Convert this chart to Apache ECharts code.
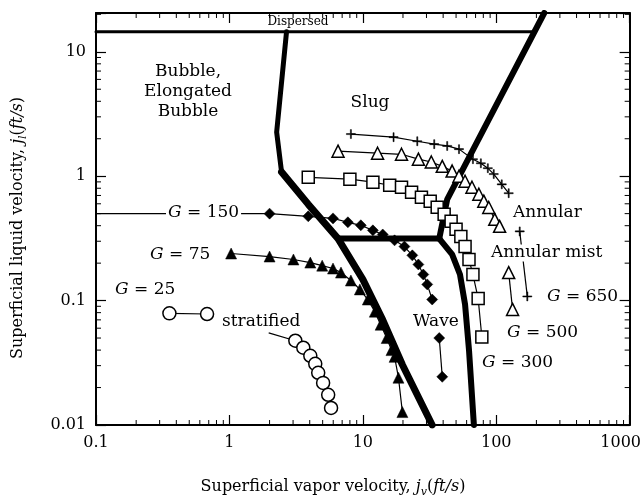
<!DOCTYPE html>
<html>
<head>
<meta charset="utf-8">
<script src="https://cdn.jsdelivr.net/npm/echarts@6.0.0/dist/echarts.min.js"></script>
<style>
html, body { margin: 0; padding: 0; background: #fff; }
#chart { width: 644px; height: 495px; }
</style>
</head>
<body>
<div id="chart"></div>
<script>
// axis ranges and ticks
const xRange = [0.1, 1000];
const yRange = [0.01, 20.5];
const xMinorTicks = [0.2, 0.3, 0.4, 0.5, 0.6, 0.7, 0.8, 0.9,
    2, 3, 4, 5, 6, 7, 8, 9, 20, 30, 40, 50, 60, 70, 80, 90,
    200, 300, 400, 500, 600, 700, 800, 900];
const yMinorTicks = [0.02, 0.03, 0.04, 0.05, 0.06, 0.07, 0.08, 0.09,
    0.2, 0.3, 0.4, 0.5, 0.6, 0.7, 0.8, 0.9, 2, 3, 4, 5, 6, 7, 8, 9, 20];

// flow regime boundaries [jv, jl]
const dispersedLine = [[0.1, 14.5], [191, 14.5]];
const bubbleUpper = [[2.68, 14.5], [2.26, 2.26], [2.46, 1.08]];
const bubbleLower = [[2.46, 1.08], [3.9, 0.594], [6.52, 0.315],
    [10, 0.148], [14.1, 0.07], [19.8, 0.0305], [33.1, 0.01]];
const waveTopLine = [[6.52, 0.315], [37.4, 0.315]];
const annularLine = [[37.4, 0.315], [42.9, 0.65], [229, 20.5]];
const waveRightLine = [[37.4, 0.315], [46.7, 0.235], [53.5, 0.162], [58.4, 0.093], [62.5, 0.04], [68, 0.01]];

// data, G = mass flux
const g25a = [[0.355, 0.079], [0.68, 0.078]];
const g25b = [[1.97, 0.055], [3.12, 0.0476], [3.58, 0.0418], [4.04, 0.036], [4.4, 0.031],
    [4.63, 0.0263], [5.04, 0.0218], [5.5, 0.0175], [5.78, 0.0137]];
const g75 = [[1.03, 0.239], [2.0, 0.226], [3.02, 0.214], [4.04, 0.202], [4.96, 0.191], [5.98, 0.181],
    [6.86, 0.168], [8.14, 0.145], [9.5, 0.123], [10.9, 0.102], [12.3, 0.0815], [13.6, 0.064],
    [15.1, 0.05], [16.4, 0.04], [17.3, 0.0353], [18.5, 0.024], [19.8, 0.0127]];
const g150a = [[0.1, 0.5], [2.0, 0.5], [3.9, 0.476], [5.98, 0.458], [7.73, 0.426], [9.66, 0.403],
    [11.9, 0.367], [14.1, 0.34], [17.3, 0.305], [20.5, 0.272], [23.5, 0.231], [26.1, 0.195],
    [28.4, 0.162], [30.4, 0.135], [33.1, 0.102]];
const g150b = [[37.4, 0.05], [39.4, 0.0244]];
const g300 = [[3.9, 0.98], [8.0, 0.946], [11.9, 0.895], [15.9, 0.846], [19.5, 0.815], [23.2, 0.743],
    [27.5, 0.677], [32.0, 0.629], [36.1, 0.563], [40.7, 0.494], [45.9, 0.434], [50.0, 0.374],
    [54.3, 0.328], [58.4, 0.272], [62.5, 0.214], [66.9, 0.162], [73.2, 0.104], [78.0, 0.051]];
const g500a = [[6.52, 1.59], [12.9, 1.53], [19.5, 1.5], [26.1, 1.37], [32.6, 1.3], [39.4, 1.2],
    [46.7, 1.1], [52.6, 1.0], [58.4, 0.91], [65.8, 0.815], [74.1, 0.716], [80.7, 0.63],
    [87.9, 0.56], [97.5, 0.45], [106, 0.395]];
const g500b = [[124, 0.168], [132.6, 0.085]];
const g650a = [[8.14, 2.18], [17.0, 2.06], [25.6, 1.91], [34.3, 1.81], [42.9, 1.75], [52.6, 1.65],
    [66.9, 1.37], [76.7, 1.27], [86.5, 1.16], [95.8, 1.04], [110, 0.86], [124, 0.73]];
const g650b = [[150, 0.36], [171, 0.108]];

const FONT = 'DejaVu Serif';
const plus = 'path://M4.4,0h1.2v4.4h4.4v1.2h-4.4v4.4h-1.2v-4.4h-4.4v-1.2h4.4z';

const chart = echarts.init(document.getElementById('chart'));

function decadeLabel(v) {
    const l = Math.log10(v);
    if (Math.abs(l - Math.round(l)) > 1e-6) return '';
    const r = Math.pow(10, Math.round(l));
    if (r === 1000) return '{r|1000}';
    return String(r);
}

function makeAxis(pos, range, labels) {
    return {
        type: 'log',
        logBase: 10,
        min: range[0],
        max: range[1],
        position: pos,
        axisLine: { show: true, onZero: false, lineStyle: { color: '#000', width: 2 } },
        axisTick: { show: true, inside: true, length: 10, lineStyle: { color: '#000', width: 1.2 } },
        axisLabel: {
            show: labels,
            margin: 10,
            color: '#000',
            fontFamily: FONT,
            fontSize: 16,
            formatter: decadeLabel,
            rich: { r: { fontFamily: FONT, fontSize: 16, color: '#000', padding: [0, 18, 0, 0] } }
        },
        splitLine: { show: false },
        minorTick: { show: false }
    };
}

function boundary(data, width) {
    return {
        type: 'line', data: data, symbol: 'none', z: 2,
        lineStyle: { color: '#000', width: width, cap: 'round', join: 'round' }
    };
}

function points(data, symbol, size, filled, skipFirst) {
    return {
        type: 'line',
        data: data.map((p, i) => (skipFirst && i === 0) ? { value: p, symbol: 'none' } : p),
        symbol: symbol,
        symbolSize: size,
        showAllSymbol: true,
        z: 5,
        lineStyle: { color: '#000', width: 1.2 },
        itemStyle: { color: filled ? '#000' : '#fff', borderColor: '#000', borderWidth: filled ? 0.5 : 1.5 }
    };
}

function minorTicks(dir) {
    return function (params, api) {
        const cs = params.coordSys;
        const v = api.value(dir === 'x' ? 0 : 1);
        const len = 5;
        const st = { stroke: '#000', lineWidth: 1 };
        if (dir === 'x') {
            const px = api.coord([v, 1])[0];
            return { type: 'group', children: [
                { type: 'line', shape: { x1: px, y1: cs.y + cs.height, x2: px, y2: cs.y + cs.height - len }, style: st },
                { type: 'line', shape: { x1: px, y1: cs.y, x2: px, y2: cs.y + len }, style: st }
            ] };
        }
        const py = api.coord([1, v])[1];
        return { type: 'group', children: [
            { type: 'line', shape: { x1: cs.x, y1: py, x2: cs.x + len, y2: py }, style: st },
            { type: 'line', shape: { x1: cs.x + cs.width, y1: py, x2: cs.x + cs.width - len, y2: py }, style: st }
        ] };
    };
}

const rich = {
    i: { fontFamily: FONT, fontSize: 17, fontStyle: 'italic', color: '#000' },
    n: { fontFamily: FONT, fontSize: 17, color: '#000' },
    ti: { fontFamily: FONT, fontSize: 16, fontStyle: 'italic', color: '#000' },
    tn: { fontFamily: FONT, fontSize: 16, color: '#000' },
    sub: { fontFamily: FONT, fontSize: 11, fontStyle: 'italic', color: '#000', verticalAlign: 'bottom', lineHeight: 22 }
};

function label(x, y, text, align, extra) {
    return {
        type: 'text', x: x, y: y, z: 100,
        style: Object.assign({
            text: text, fontFamily: FONT, fontSize: 17, fill: '#000',
            textAlign: align || 'left', textVerticalAlign: 'middle', rich: rich
        }, extra || {})
    };
}

const whiteBg = { backgroundColor: '#fff', padding: [0, 2, 0, 2] };

chart.setOption({
    animation: false,
    backgroundColor: '#fff',
    grid: { left: 96, right: 10, top: 13, bottom: 70, containLabel: false },
    xAxis: [makeAxis('bottom', xRange, true), makeAxis('top', xRange, false)],
    yAxis: [makeAxis('left', yRange, true), makeAxis('right', yRange, false)],
    series: [
        { type: 'custom', renderItem: minorTicks('x'), data: xMinorTicks.map(v => [v, 1]), silent: true, clip: false },
        { type: 'custom', renderItem: minorTicks('y'), data: yMinorTicks.map(v => [1, v]), silent: true, clip: false },
        boundary(dispersedLine, 3),
        boundary(bubbleUpper, 5),
        boundary(bubbleLower, 7),
        boundary(waveTopLine, 6),
        boundary(annularLine, 6),
        boundary(waveRightLine, 6),
        points(g25a, 'circle', 13, false),
        points(g25b, 'circle', 13, false, true),
        points(g75, 'triangle', 11, true),
        points(g150a, 'diamond', 11, true, true),
        points(g150b, 'diamond', 11, true),
        points(g300, 'rect', 12, false),
        points(g500a, 'triangle', 12, false),
        points(g500b, 'triangle', 12, false),
        points(g650a, plus, 9, true),
        points(g650b, plus, 9, true)
    ],
    graphic: [
        label(298, 22, 'Dispersed', 'center', { fontSize: 12 }),
        label(188, 72, 'Bubble,', 'center'),
        label(188, 92, 'Elongated', 'center'),
        label(188, 112, 'Bubble', 'center'),
        label(370, 103, 'Slug', 'center'),
        label(166, 213, '{i|G}{n| = 150}', 'left', whiteBg),
        label(150, 255, '{i|G}{n| = 75}', 'left'),
        label(115, 290, '{i|G}{n| = 25}', 'left'),
        label(222, 322, 'stratified', 'left'),
        label(436, 322, 'Wave', 'center'),
        label(513, 213, 'Annular', 'left'),
        label(489, 253, 'Annular mist', 'left', whiteBg),
        label(547, 297, '{i|G}{n| = 650}', 'left'),
        label(507, 333, '{i|G}{n| = 500}', 'left'),
        label(482, 363, '{i|G}{n| = 300}', 'left'),
        label(333, 487, '{tn|Superficial vapor velocity, }{ti|j}{sub|v}{tn|(}{ti|ft/s}{tn|)}', 'center'),
        {
            type: 'text', x: 18, y: 228, rotation: Math.PI / 2, z: 100,
            style: {
                text: '{tn|Superficial liquid velocity, }{ti|j}{sub|l}{tn|(}{ti|ft/s}{tn|)}',
                textAlign: 'center', textVerticalAlign: 'middle', rich: rich, fill: '#000'
            }
        }
    ]
});
</script>
</body>
</html>
